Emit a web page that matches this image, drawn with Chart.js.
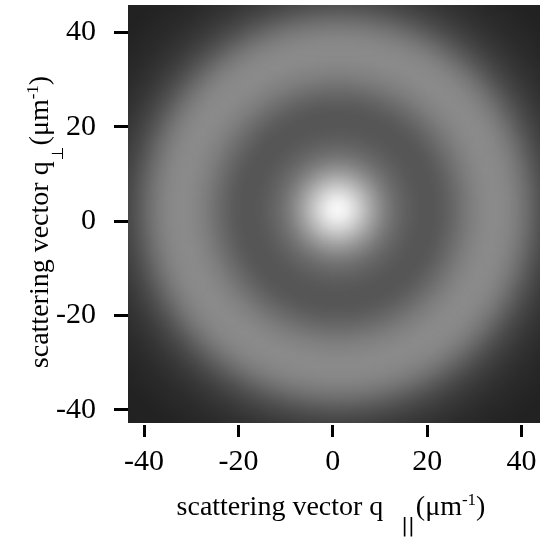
<!DOCTYPE html>
<html>
<head>
<meta charset="utf-8">
<script src="https://cdn.jsdelivr.net/npm/chart.js@4.4.1/dist/chart.umd.min.js"></script>
<style>
  html, body { margin: 0; padding: 0; background: #fff; }
  #wrap { width: 540px; height: 537px; }
</style>
</head>
<body>
<div id="wrap"><canvas id="scatterChart" width="540" height="537"></canvas></div>
<script>
// tick labels on both axes (um^-1)
const xTicks = [-40, -20, 0, 20, 40];
const yTicks = [-40, -20, 0, 20, 40];

// visible extent of the scattering image
const xRange = [-43.4, 43.9];
const yRange = [-42.75, 45.8];

// centre of the ring pattern
const centreX = 1.0;
const centreY = 2.5;

// radial profile: radius (um^-1) -> grey level (0-255)
const profileR    = [0,   2,   4,   6,   8,   10,  12,  14, 16, 18, 20, 22, 24,  26,  28,  30,  32,  34,  36,  38,  40,  42, 44, 46, 48, 50, 52, 54, 56, 58, 60, 64];
const profileGray = [250, 238, 212, 182, 153, 128, 110, 98, 90, 86, 86, 91, 101, 113, 125, 133, 138, 138, 134, 124, 109, 91, 75, 63, 54, 48, 43, 40, 37, 35, 34, 33];

const ctx = document.getElementById('scatterChart').getContext('2d');

// grey level at a given radius
function greyAt(r) {
    for (let i = 1; i < profileR.length; i++) {
        if (r <= profileR[i]) {
            const t = (r - profileR[i - 1]) / (profileR[i] - profileR[i - 1]);
            return profileGray[i - 1] + t * (profileGray[i] - profileGray[i - 1]);
        }
    }
    return profileGray[profileGray.length - 1];
}

// build the image once, one cell per unit of q
const xStart = Math.floor(xRange[0]), xEnd = Math.ceil(xRange[1]);
const yStart = Math.floor(yRange[0]), yEnd = Math.ceil(yRange[1]);
const img = document.createElement('canvas');
img.width = xEnd - xStart + 1;
img.height = yEnd - yStart + 1;
const ictx = img.getContext('2d');
const pix = ictx.createImageData(img.width, img.height);
for (let j = 0; j < img.height; j++) {
    for (let i = 0; i < img.width; i++) {
        const r = Math.hypot(xStart + i - centreX, yEnd - j - centreY);
        const g = Math.round(greyAt(r));
        const k = (j * img.width + i) * 4;
        pix.data[k] = g; pix.data[k + 1] = g; pix.data[k + 2] = g; pix.data[k + 3] = 255;
    }
}
ictx.putImageData(pix, 0, 0);

// draws the image through the chart scales
const heatmapPlugin = {
    id: 'heatmap',
    beforeDatasetsDraw(chart) {
        const { ctx, scales: { x, y } } = chart;
        const left = x.getPixelForValue(xRange[0]);
        const right = x.getPixelForValue(xRange[1]);
        const top = y.getPixelForValue(yRange[1]);
        const bottom = y.getPixelForValue(yRange[0]);
        ctx.save();
        ctx.beginPath();
        ctx.rect(left, top, right - left, bottom - top);
        ctx.clip();
        ctx.imageSmoothingEnabled = true;
        const x0 = x.getPixelForValue(xStart - 0.5);
        const x1 = x.getPixelForValue(xEnd + 0.5);
        const y0 = y.getPixelForValue(yEnd + 0.5);
        const y1 = y.getPixelForValue(yStart - 0.5);
        ctx.drawImage(img, x0, y0, x1 - x0, y1 - y0);
        ctx.restore();
    }
};

// axis titles with sub- and superscripts
function drawTitle(c, sub, subGap, subSize, subDrop) {
    const big = '28px "Liberation Serif"';
    const parts = [
        { t: 'scattering vector q', f: big, dy: 0, gap: subGap },
        { t: sub, f: subSize + 'px "DejaVu Sans"', dy: subDrop, gap: 1 },
        { t: '(\u03bcm', f: big, dy: 0, gap: 0 },
        { t: '-1', f: '17px "Liberation Serif"', dy: -10, gap: 0 },
        { t: ')', f: big, dy: 0, gap: 0 }
    ];
    let total = 0;
    parts.forEach(p => { c.font = p.f; p.w = c.measureText(p.t).width; total += p.w + p.gap; });
    let pos = -total / 2;
    c.fillStyle = '#000';
    c.textBaseline = 'alphabetic';
    c.textAlign = 'left';
    parts.forEach(p => {
        c.font = p.f;
        c.fillText(p.t, pos, p.dy);
        pos += p.w + p.gap;
    });
}

const titlePlugin = {
    id: 'axisTitles',
    afterDraw(chart) {
        const c = chart.ctx;
        c.save();
        c.translate(331, 515);
        drawTitle(c, '||', 18, 20, 17);
        c.restore();
        c.save();
        c.translate(48, 222);
        c.rotate(-Math.PI / 2);
        drawTitle(c, '\u22a5', 1, 16, 15);
        c.restore();
    }
};

const tickFont = { family: 'Liberation Serif', size: 30 };

new Chart(ctx, {
    type: 'scatter',
    data: { datasets: [{ data: [], pointRadius: 0 }] },
    options: {
        responsive: false,
        animation: false,
        layout: { padding: { top: 5, right: 0, bottom: 0, left: 0 } },
        plugins: { legend: { display: false }, tooltip: { enabled: false } },
        scales: {
            x: {
                type: 'linear',
                min: xRange[0],
                max: xRange[1],
                afterBuildTicks: axis => { axis.ticks = xTicks.map(v => ({ value: v })); },
                afterFit: axis => { axis.height = 112; axis.paddingLeft = 0; axis.paddingRight = 0; },
                border: { display: false },
                grid: { drawOnChartArea: false, drawTicks: true, tickLength: 12, lineWidth: 3, color: '#000' },
                ticks: { font: tickFont, color: '#000', padding: 7, maxRotation: 0, autoSkip: false }
            },
            y: {
                type: 'linear',
                min: -43.2,
                max: yRange[1],
                afterBuildTicks: axis => { axis.ticks = yTicks.map(v => ({ value: v })); },
                afterFit: axis => { axis.width = 128; axis.paddingTop = 0; axis.paddingBottom = 0; },
                border: { display: false },
                grid: { drawOnChartArea: false, drawTicks: true, tickLength: 14, lineWidth: 3, color: '#000' },
                ticks: { font: tickFont, color: '#000', padding: 18, autoSkip: false }
            }
        }
    },
    plugins: [heatmapPlugin, titlePlugin]
});
</script>
</body>
</html>
